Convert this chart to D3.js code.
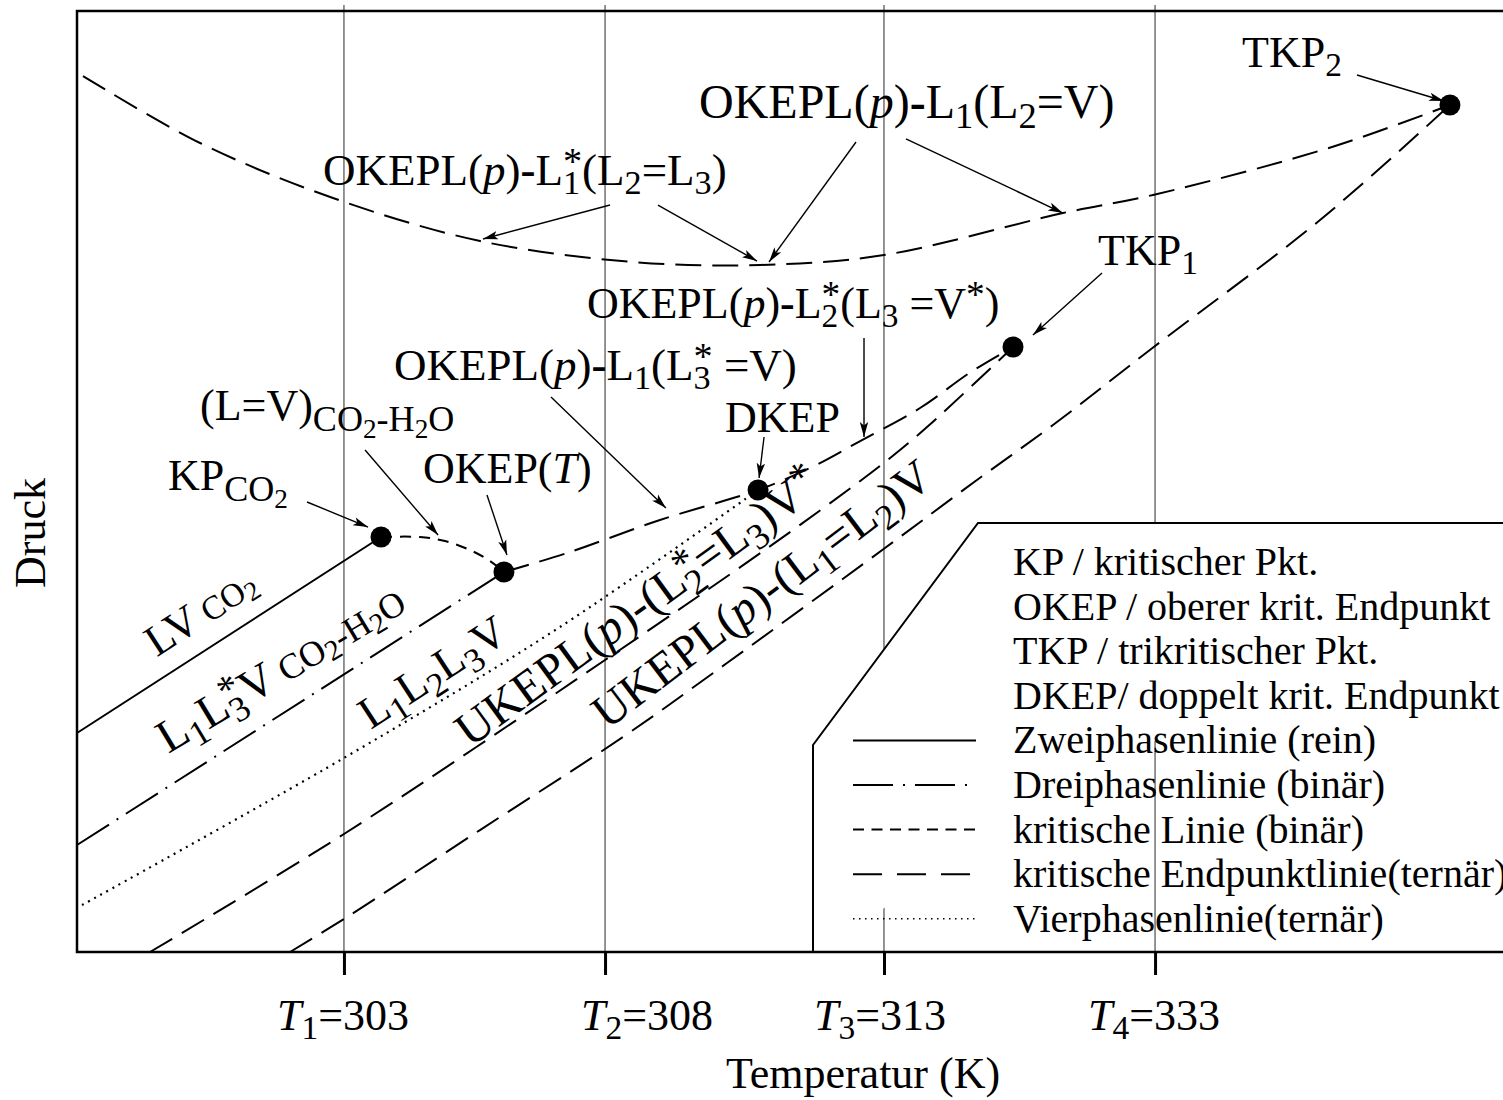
<!DOCTYPE html>
<html>
<head>
<meta charset="utf-8">
<script src="https://cdn.jsdelivr.net/npm/d3@7"></script>
<style>
  html, body { margin: 0; padding: 0; background: #fff; }
  svg { display: block; font-family: "Liberation Serif", "Times New Roman", serif; }
  text { white-space: pre; fill: #000; }
</style>
</head>
<body>
<svg id="chart" width="1503" height="1100"></svg>
<script>
// Schematic p–T projection, CO2–H2O–(third component).
// All coordinates are schematic units: 0..100 on both axes.

// Isotherms (schematic temperature positions) and their labels
const isotherms = [18.72, 37.03, 56.59, 75.60];
const isothermIndex = ["1", "2", "3", "4"];
const isothermValues = ["303", "308", "313", "333"];

// Special points
const pointNames = ["KP_CO2", "OKEP", "DKEP", "TKP1", "TKP2"];
const pointX = [21.32, 29.94, 47.76, 65.64, 96.28];
const pointY = [44.10, 40.38, 49.10, 64.29, 90.01];

// Two-phase line of pure CO2 (ends at KP_CO2)
const lvCO2 = [[0, 23.27], [21.32, 44.10]];
// Three-phase line L1L3V of binary CO2-H2O (ends at OKEP)
const threePhaseL1L3V = [[0, 11.37], [29.94, 40.38]];
// Four-phase line L1L2L3V (ends at DKEP)
const fourPhaseLine = [[0.35, 4.99], [18.72, 20.62], [33.87, 34.54], [47.76, 49.10]];
// Binary critical line (L=V) CO2-H2O from KP_CO2 to OKEP
const criticalBinary = [[21.32, 44.10], [24.05, 44.10], [25.81, 43.67], [27.56, 42.72], [28.96, 41.55], [29.94, 40.38]];
// OKEPL from OKEP through DKEP to TKP1
const okeplLower = [[29.94, 40.38], [34.36, 42.40], [40.88, 45.91], [47.76, 49.10], [51.40, 51.43], [55.05, 54.41], [59.12, 57.81], [62.69, 61.64], [65.64, 64.29]];
// UKEPL(p)-(L2*=L3)V* ending at TKP1
const ukeplL2L3 = [[5.12, 0], [18.72, 12.54], [37.03, 31.03], [50.21, 44.85], [56.66, 52.07], [59.61, 55.79], [65.64, 64.29]];
// UKEPL(p)-(L1=L2)V ending at TKP2
const ukeplL1L2 = [[14.94, 0], [18.72, 3.51], [28.26, 12.96], [38.29, 22.85], [45.58, 30.71], [56.66, 42.93], [63.11, 50.16], [68.44, 56.00], [75.60, 64.40], [87.17, 77.79], [96.28, 90.01]];
// Upper OKEPL branch (L1*(L2=L3) and L1(L2=V)) ending at TKP2
const okeplUpper = [[0.42, 93.09], [8.63, 85.97], [17.95, 80.13], [28.26, 75.56], [38.99, 73.33], [47.90, 73.01], [56.59, 74.07], [69.14, 78.53], [75.46, 80.45], [88.01, 85.55], [96.28, 90.01]];

// Legend entries
const legendPointTexts = ["KP / kritischer Pkt.", "OKEP / oberer krit. Endpunkt", "TKP / trikritischer Pkt.", "DKEP/ doppelt krit. Endpunkt"];
const legendLineTexts = ["Zweiphasenlinie (rein)", "Dreiphasenlinie (binär)", "kritische Linie (binär)", "kritische Endpunktlinie(ternär)", "Vierphasenlinie(ternär)"];

// Annotation labels: rich text parts, anchor in schematic units, rotation (deg)
const labels = [
  { parts: [["TKP"], ["2", "sub"]], at: [81.70, 94.05] },
  { parts: [["OKEPL("], ["p", "i"], [")"], ["-", "b"], ["L"], ["1", "sub"], ["(L"], ["2", "sub"], ["=V)"]], at: [43.62, 88.63], fs: 48 },
  { parts: [["OKEPL("], ["p", "i"], [")"], ["-", "b"], ["L"], ["*", "sup"], ["1", "subu"], ["(L"], ["2", "sub"], ["=L"], ["3", "sub"], [")"]], at: [17.25, 81.51], fs: 45 },
  { parts: [["TKP"], ["1", "sub"]], at: [71.60, 73.01] },
  { parts: [["OKEPL("], ["p", "i"], [")"], ["-", "b"], ["L"], ["*", "sup"], ["2", "subu"], ["(L"], ["3", "sub"], [" =V"], ["*", "sup"], [")"]], at: [35.76, 67.38] },
  { parts: [["OKEPL("], ["p", "i"], [")"], ["-", "b"], ["L"], ["1", "sub"], ["(L"], ["*", "sup"], ["3", "subu"], [" =V)"]], at: [22.23, 60.79], fs: 45 },
  { parts: [["(L=V)"], ["CO", "smsub"], ["2", "smsub2"], ["-H", "smsub"], ["2", "smsub2"], ["O", "smsub"]], at: [8.63, 56.54] },
  { parts: [["DKEP"]], at: [45.44, 55.26] },
  { parts: [["OKEP("], ["T", "i"], [")"]], at: [24.26, 49.84] },
  { parts: [["KP"], ["CO", "smsub"], ["2", "smsub2"]], at: [6.38, 49.10] },
  { parts: [["LV"], [" CO", "sm"], ["2", "sm2"]], at: [5.60, 31.30], rot: -33 },
  { parts: [["L"], ["1", "sub"], ["L"], ["*", "sup"], ["3", "subu"], ["V"], [" CO", "sm"], ["2", "sm2"], ["-H", "sm"], ["2", "sm2"], ["O", "sm"]], at: [6.40, 21.05], rot: -31, fs: 47 },
  { parts: [["L"], ["1", "sub"], ["L"], ["2", "sub"], ["L"], ["3", "sub"], ["V"]], at: [20.60, 23.60], rot: -33, fs: 45 },
  { parts: [["UKEPL("], ["p", "i"], [")-(L"], ["*", "sup"], ["2", "subu"], ["=L"], ["3", "sub"], [")V"], ["*", "sup"]], at: [27.56, 21.66], rot: -36, fs: 48 },
  { parts: [["UKEPL("], ["p", "i"], [")-(L"], ["1", "sub"], ["=L"], ["2", "sub"], [")V"]], at: [37.17, 23.57], rot: -37, fs: 47.5 }
];

// Pointer arrows: from -> to, schematic units
const arrows = [
  [[89.76, 93.20], [95.86, 90.44]],
  [[54.63, 86.08], [48.53, 73.33]],
  [[58.13, 86.40], [69.14, 78.53]],
  [[37.38, 79.38], [28.47, 75.77]],
  [[40.74, 79.38], [47.69, 73.43]],
  [[71.88, 72.16], [67.04, 65.57]],
  [[55.19, 65.25], [55.19, 54.73]],
  [[33.24, 58.98], [41.30, 47.18]],
  [[48.18, 54.73], [47.83, 50.37]],
  [[28.75, 48.57], [30.15, 42.19]],
  [[20.20, 53.35], [25.32, 44.31]],
  [[16.13, 47.82], [20.41, 45.16]]
];

// ---------------------------------------------------------------------------
const svg = d3.select("#chart");
const FS = 44;
const x = d3.scaleLinear().domain([0, 100]).range([77, 1503]);
const y = d3.scaleLinear().domain([0, 100]).range([952, 11]);

// Rich text with sub/superscripts built from tspans
function richText(sel, parts, fs) {
  let cur = 0, carry = 0, starW = 0;
  parts.forEach(([t, k]) => {
    let size = fs, off = 0, style = null, weight = null, dx = carry;
    carry = 0;
    switch (k) {
      case "i": style = "italic"; break;
      case "b": weight = "bold"; break;
      case "sub": size = fs * 0.76; off = fs * 0.21; break;
      case "sup": size = fs * 0.85; off = -fs * 0.25; starW = size * 0.5; break;
      case "subu": size = fs * 0.76; off = fs * 0.21; dx -= starW; carry = Math.max(0, starW - size * 0.5 * t.length); break;
      case "sm": size = fs * 0.76; break;
      case "sm2": size = fs * 0.62; off = fs * 0.12; break;
      case "smsub": size = fs * 0.82; off = fs * 0.24; break;
      case "smsub2": size = fs * 0.62; off = fs * 0.42; break;
    }
    const ts = sel.append("tspan").text(t).attr("font-size", size).attr("dy", off - cur);
    if (dx) ts.attr("dx", dx);
    if (style) ts.attr("font-style", style);
    if (weight) ts.attr("font-weight", weight);
    cur = off;
  });
}

// Isotherm guide lines
svg.append("g").selectAll("line").data(isotherms).join("line")
  .attr("x1", d => x(d)).attr("x2", d => x(d))
  .attr("y1", 5).attr("y2", y(0))
  .attr("stroke", "#5a5a5a").attr("stroke-width", 1.3);

// Curves
const line = d3.line().x(d => x(d[0])).y(d => y(d[1])).curve(d3.curveCatmullRom.alpha(0.5));
const curves = [
  { data: lvCO2, dash: null, w: 2 },
  { data: threePhaseL1L3V, dash: "38,9,2,9", w: 2 },
  { data: fourPhaseLine, dash: "2,5", w: 2.2 },
  { data: criticalBinary, dash: "11,8", w: 2 },
  { data: okeplLower, dash: "26,11", w: 2 },
  { data: ukeplL2L3, dash: "26,11", w: 2 },
  { data: ukeplL1L2, dash: "26,11", w: 2 },
  { data: okeplUpper, dash: "26,11", w: 2 }
];
svg.append("g").selectAll("path").data(curves).join("path")
  .attr("d", d => line(d.data))
  .attr("fill", "none").attr("stroke", "#000")
  .attr("stroke-width", d => d.w)
  .attr("stroke-dasharray", d => d.dash);

// Special points
svg.append("g").selectAll("circle").data(pointNames).join("circle")
  .attr("cx", (d, i) => x(pointX[i])).attr("cy", (d, i) => y(pointY[i]))
  .attr("r", 10.5).attr("fill", "#000");

// Legend box (covers the isotherms in the lower right)
svg.append("path")
  .attr("d", `M${x(100) + 5},523 L978,523 L813,745 L813,${y(0)}`)
  .attr("fill", "#fff").attr("stroke", "#000").attr("stroke-width", 2);

const legend = svg.append("g");
const LFS = 40, lx = 1013, ly0 = 575, lstep = 44.6;
legend.selectAll("text").data(legendPointTexts.concat(legendLineTexts)).join("text")
  .attr("x", lx).attr("y", (d, i) => ly0 + i * lstep)
  .attr("font-size", LFS).text(d => d);
const legendStyles = [
  { dash: null, w: 2 },
  { dash: "40,10,2,10", w: 2 },
  { dash: "11,7.5", w: 2 },
  { dash: "29,15", w: 2 },
  { dash: "1.5,4.5", w: 1.4 }
];
legend.selectAll("line").data(legendStyles).join("line")
  .attr("x1", 853).attr("x2", 976)
  .attr("y1", (d, i) => ly0 + (i + legendPointTexts.length) * lstep - 13)
  .attr("y2", (d, i) => ly0 + (i + legendPointTexts.length) * lstep - 13)
  .attr("stroke", "#000").attr("stroke-width", d => d.w)
  .attr("stroke-dasharray", d => d.dash);

// Frame
svg.append("path")
  .attr("d", `M${x(100) + 5},${y(100)} H${x(0)} V${y(0)} H${x(100) + 5}`)
  .attr("fill", "none").attr("stroke", "#000").attr("stroke-width", 2.5);

// Axis ticks at the isotherms
const xAxis = d3.axisBottom(x).tickValues(isotherms).tickSize(23).tickFormat(() => "");
const gAxis = svg.append("g").attr("transform", `translate(0,${y(0)})`).call(xAxis);
gAxis.select(".domain").remove();
gAxis.selectAll(".tick line").attr("stroke", "#000").attr("stroke-width", 3);

// Tick labels  T_i = value
const tickShift = [-1, 42, -4, -1];
isotherms.forEach((t, i) => {
  const tx = svg.append("text")
    .attr("x", x(t) + tickShift[i]).attr("y", 1030)
    .attr("text-anchor", "middle").attr("font-size", FS);
  richText(tx, [["T", "i"], [isothermIndex[i], "sub"], ["=" + isothermValues[i]]], FS);
});

// Axis titles
svg.append("text").attr("x", 863).attr("y", 1088).attr("text-anchor", "middle")
  .attr("font-size", FS).text("Temperatur (K)");
svg.append("text").attr("transform", "translate(45,533) rotate(-90)")
  .attr("text-anchor", "middle").attr("font-size", FS).text("Druck");

// Annotation labels
labels.forEach(l => {
  const fs = l.fs || FS;
  const t = svg.append("text").attr("font-size", fs)
    .attr("transform", `translate(${x(l.at[0])},${y(l.at[1])})` + (l.rot ? ` rotate(${l.rot})` : ""));
  richText(t, l.parts, fs);
});

// Arrows
svg.append("defs").append("marker")
  .attr("id", "head").attr("markerUnits", "userSpaceOnUse")
  .attr("markerWidth", 16).attr("markerHeight", 10)
  .attr("refX", 15).attr("refY", 5).attr("orient", "auto")
  .append("path").attr("d", "M0,0.8 L15,5 L0,9.2 L3.5,5 Z").attr("fill", "#000");
svg.append("g").selectAll("line").data(arrows).join("line")
  .attr("x1", d => x(d[0][0])).attr("y1", d => y(d[0][1]))
  .attr("x2", d => x(d[1][0])).attr("y2", d => y(d[1][1]))
  .attr("stroke", "#000").attr("stroke-width", 1.4)
  .attr("marker-end", "url(#head)");
</script>
</body>
</html>
